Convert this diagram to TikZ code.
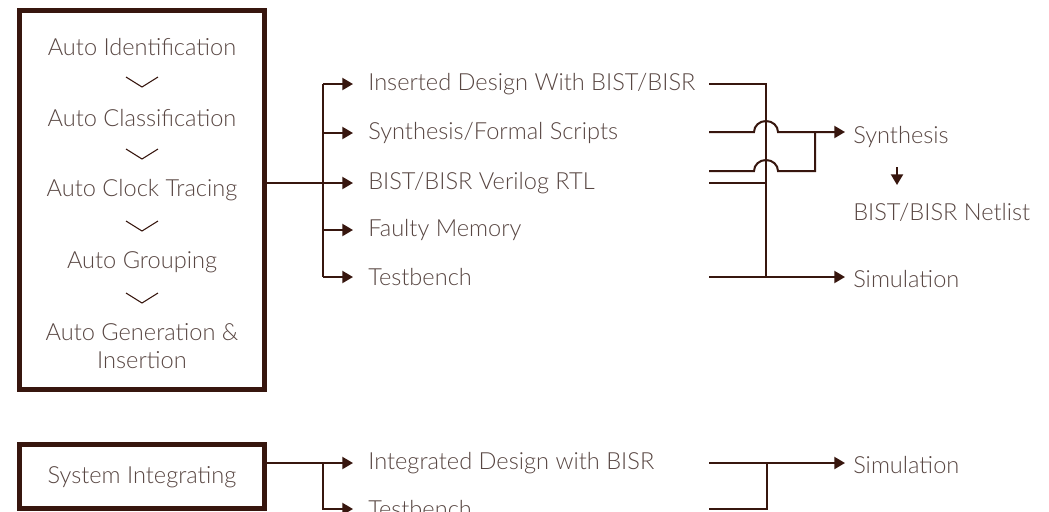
\documentclass[tikz,border=0pt]{standalone}
\usepackage{fontspec}
\setmainfont{Lato Light}
\usetikzlibrary{arrows.meta}
\definecolor{linec}{RGB}{55,22,14}
\definecolor{textc}{RGB}{88,70,66}
\begin{document}
\begin{tikzpicture}[x=0.75pt,y=-0.75pt,
  txt/.style={inner sep=0pt, text=textc, font=\fontsize{17.7pt}{21pt}\selectfont},
  ltxt/.style={txt, anchor=west},
  bigbox/.style={draw=linec, line width=3.75pt, inner sep=0pt},
  wire/.style={draw=linec, line width=1.5pt},
  arr/.style={wire, -{Triangle[length=8pt,width=9pt]}},
  chev/.style={draw=linec, line width=0.8pt}]
\useasboundingbox (0,0) rectangle (1049,511);
\clip (0,0) rectangle (1049,511);
\fill[white] (0,0) rectangle (1049,511);

% ---- top box ----
\node[bigbox, minimum width=183.4pt, minimum height=284.25pt] (box1) at (142.25,200) {};
\node[txt] (t1) at (142,47) {Auto Identification};
\node[txt] (t2) at (142,118) {Auto Classification};
\node[txt] (t3) at (142,190) {Auto Clock Tracing};
\node[txt] (t4) at (142,262) {Auto Grouping};
\node[txt, align=center] (t5) at (142,346) {Auto Generation \&\\Insertion};
\foreach \y in {77,149,221,293}{
  \draw[chev] (126,\y) -- (142,\y+10) -- (158,\y);
}

% ---- outputs ----
\node[ltxt] (o1) at (368,84) {Inserted Design With BIST/BISR};
\node[ltxt] (o2) at (368,133) {Synthesis/Formal Scripts};
\node[ltxt] (o3) at (368,183) {BIST/BISR Verilog RTL};
\node[ltxt] (o4) at (368,230) {Faulty Memory};
\node[ltxt] (o5) at (368,277) {Testbench};

\coordinate (b0) at (323,183);
\draw[wire] (box1.east |- b0) -- (b0);
\coordinate (btop) at (323,84);
\coordinate (bbot) at (323,277);
\draw[wire] (btop) -- (bbot);
\foreach \o in {o1,o2,o3,o4,o5}{
  \draw[arr, shorten >=15pt*0.75] (btop |- \o.west) -- (\o.west);
}

% ---- right side ----
\node[ltxt] (syn) at (853,137) {Synthesis};
\node[ltxt] (net) at (853,212) {BIST/BISR Netlist};
\node[ltxt] (sim) at (853,279) {Simulation};

\coordinate (r1) at (709,84);
\coordinate (r2) at (709,132);
\coordinate (r3) at (709,171);
\coordinate (r4) at (709,183);
\coordinate (r5) at (709,277);
\coordinate (v1) at (766,84);
\coordinate (v5) at (766,277);
\coordinate (m3) at (815,171);
\coordinate (m2) at (815,132);

\draw[wire] (r1) -- (v1) -- (v5);
\draw[wire] (r4) -- (v1 |- r4);
\draw[arr] (r5) -- (v5) -- (845,277);
\draw[arr] (r2) -- (754,132) arc[start angle=180,end angle=360,x radius=12,y radius=11] -- (m2) -- (845,132);
\draw[wire] (r3) -- (754,171) arc[start angle=180,end angle=360,x radius=12,y radius=11] -- (m3) -- (m2);
\draw[arr] (897,167) -- (897,185);

% ---- bottom ----
\node[bigbox, minimum width=183.4pt, minimum height=48pt] (box2) at (142.25,476) {};
\node[txt] (s1) at (142,477) {System Integrating};
\node[ltxt] (i1) at (368,463) {Integrated Design with BISR};
\node[ltxt] (i2) at (368,509) {Testbench};
\node[ltxt] (sim2) at (853,465) {Simulation};

\coordinate (c0) at (323,463);
\draw[wire] (box2.east |- c0) -- (c0);
\draw[arr, shorten >=15pt*0.75] (c0) -- (i1.west);
\draw[arr, shorten >=15pt*0.75] (c0) |- (i2.west);
\coordinate (q1) at (709,463);
\coordinate (q2) at (709,509);
\coordinate (qv) at (767,463);
\draw[arr] (q1) -- (845,463);
\draw[wire] (q2) -| (qv);
\end{tikzpicture}
\end{document}
